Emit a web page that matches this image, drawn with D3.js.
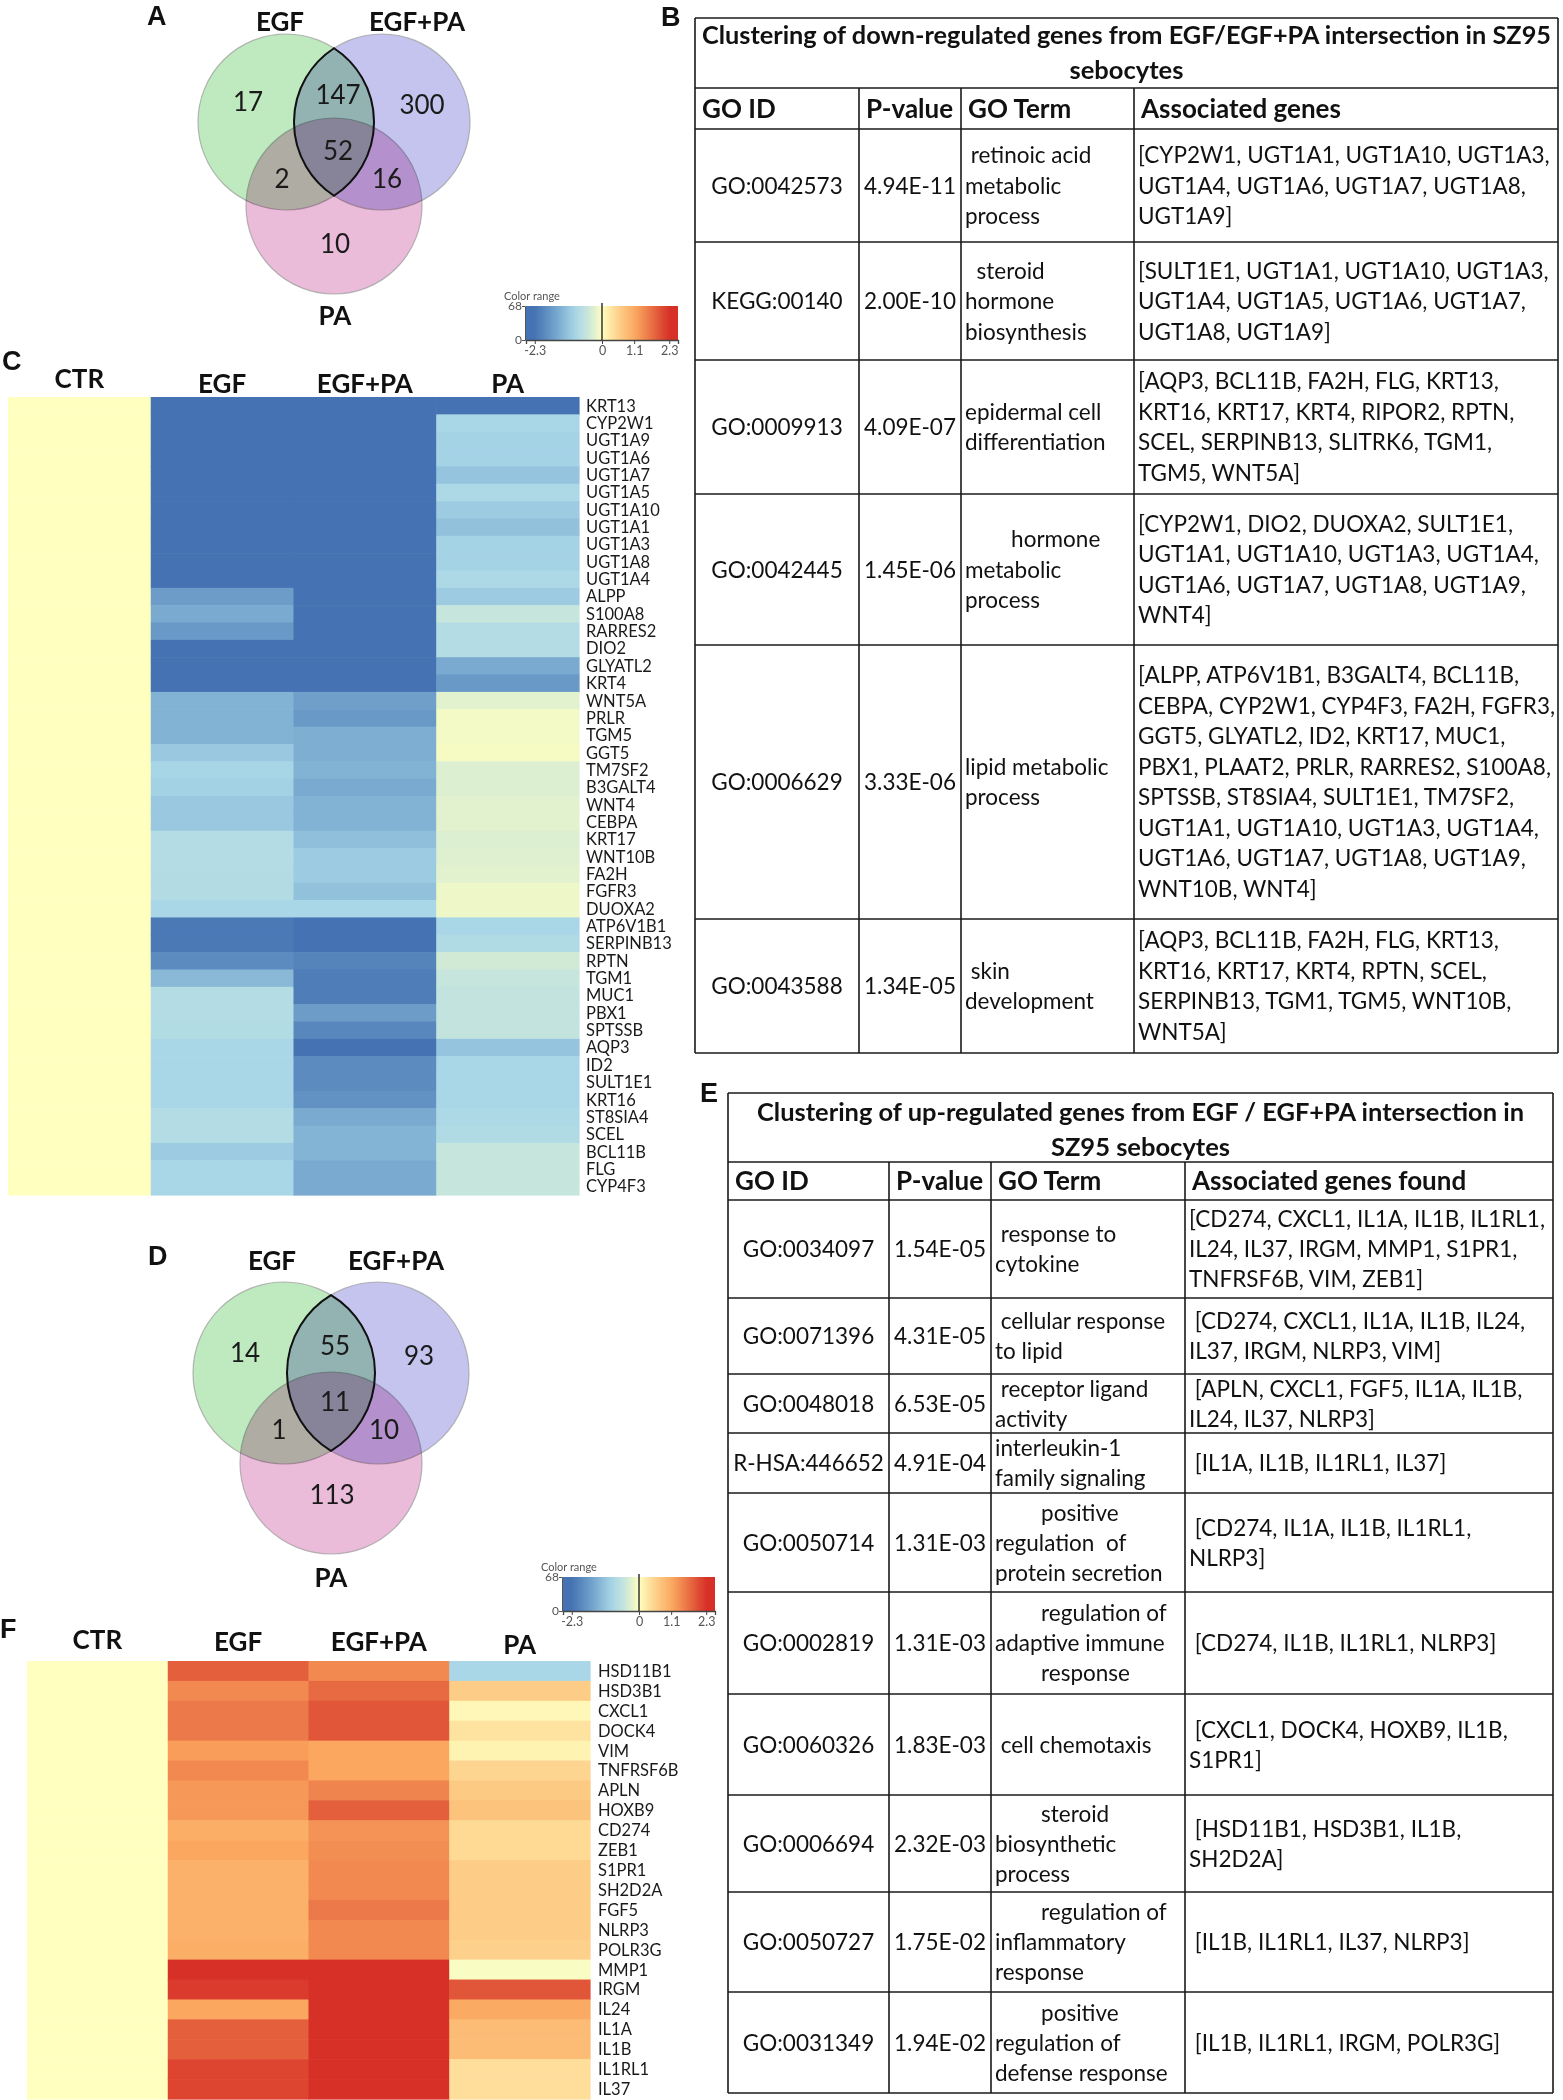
<!DOCTYPE html>
<html>
<head>
<meta charset="utf-8">
<script src="https://cdn.jsdelivr.net/npm/d3@7"></script>
<style>
  body { margin: 0; background: #fff; }
  svg text { font-family: Lato, "Open Sans", sans-serif; white-space: pre; fill: #111; }
</style>
</head>
<body>
<svg id="fig" width="1563" height="2100"></svg>
<script>
// ---------- data ----------
const conditions = ["CTR", "EGF", "EGF+PA", "PA"];

// Venn counts: only EGF, only EGF+PA, only PA, EGF&EGF+PA, EGF&PA, EGF+PA&PA, all three
const vennDownCounts = [17, 300, 10, 147, 2, 16, 52];
const vennUpCounts = [14, 93, 113, 55, 1, 10, 11];
const vennSetNames = ["EGF", "EGF+PA", "PA"];

// heatmap C (down-regulated), log fold change
const genesDown = ["KRT13","CYP2W1","UGT1A9","UGT1A6","UGT1A7","UGT1A5","UGT1A10","UGT1A1","UGT1A3","UGT1A8","UGT1A4","ALPP","S100A8","RARRES2","DIO2","GLYATL2","KRT4","WNT5A","PRLR","TGM5","GGT5","TM7SF2","B3GALT4","WNT4","CEBPA","KRT17","WNT10B","FA2H","FGFR3","DUOXA2","ATP6V1B1","SERPINB13","RPTN","TGM1","MUC1","PBX1","SPTSSB","AQP3","ID2","SULT1E1","KRT16","ST8SIA4","SCEL","BCL11B","FLG","CYP4F3"];
const downCTR = [0,0,0,0,0,0,0,0,0,0,0,0,0,0,0,0,0,0,0,0,0,0,0,0,0,0,0,0,0,0,0,0,0,0,0,0,0,0,0,0,0,0,0,0,0,0];
const downEGF = [-2.3,-2.3,-2.3,-2.3,-2.3,-2.3,-2.3,-2.3,-2.3,-2.3,-2.3,-1.7,-1.5,-1.75,-2.3,-2.3,-2.3,-1.4,-1.4,-1.4,-1.1,-0.92,-0.97,-1.1,-1.1,-0.75,-0.75,-0.78,-0.78,-0.9,-2.2,-2.2,-1.95,-1.3,-0.75,-0.75,-0.77,-0.9,-0.9,-0.9,-0.9,-0.75,-0.75,-1.05,-0.9,-0.9];
const downEGFPA = [-2.3,-2.3,-2.3,-2.3,-2.3,-2.3,-2.3,-2.3,-2.3,-2.3,-2.3,-2.3,-2.3,-2.3,-2.3,-2.3,-2.3,-1.65,-1.75,-1.45,-1.45,-1.4,-1.5,-1.4,-1.4,-1.22,-1.05,-1.05,-1.2,-0.9,-2.3,-2.3,-2.05,-2.15,-2.15,-1.7,-2.0,-2.3,-1.95,-1.95,-1.85,-1.5,-1.38,-1.38,-1.5,-1.5];
const downPA = [-2.3,-0.9,-0.95,-0.95,-1.15,-0.85,-1.05,-1.2,-0.95,-0.95,-0.85,-1.05,-0.5,-0.75,-0.75,-1.5,-1.75,-0.25,-0.1,-0.1,-0.08,-0.3,-0.3,-0.25,-0.25,-0.3,-0.28,-0.25,-0.15,-0.15,-0.9,-0.8,-0.4,-0.5,-0.55,-0.55,-0.55,-1.15,-0.9,-0.9,-0.9,-0.85,-0.8,-0.5,-0.5,-0.5];

// heatmap F (up-regulated)
const genesUp = ["HSD11B1","HSD3B1","CXCL1","DOCK4","VIM","TNFRSF6B","APLN","HOXB9","CD274","ZEB1","S1PR1","SH2D2A","FGF5","NLRP3","POLR3G","MMP1","IRGM","IL24","IL1A","IL1B","IL1RL1","IL37"];
const upCTR = [0,0,0,0,0,0,0,0,0,0,0,0,0,0,0,0,0,0,0,0,0,0];
const upEGF = [1.85,1.45,1.6,1.6,1.25,1.45,1.3,1.3,1.05,1.15,1.0,1.0,1.0,1.0,1.05,2.3,2.2,1.15,1.85,1.85,2.1,2.1];
const upEGFPA = [1.45,1.75,1.95,1.95,1.15,1.15,1.5,1.85,1.35,1.4,1.45,1.45,1.6,1.45,1.45,2.3,2.3,2.3,2.3,2.3,2.3,2.3];
const upPA = [-0.9,0.6,0.1,0.35,0.15,0.5,0.65,0.75,0.45,0.45,0.6,0.6,0.6,0.6,0.55,-0.05,1.95,1.1,0.85,0.85,0.4,0.4];

// colour legend
const legendDomain = [-2.6, 2.6];
const legendTicks = [-2.3, 0, 1.1, 2.3];
const legendCountMax = 68;

// table B
const downTitle = ["Clustering of down-regulated genes from EGF/EGF+PA intersection in SZ95", "sebocytes"];
const downHeaders = ["GO ID", "P-value", "GO Term", "Associated genes"];
const downIds = ["GO:0042573","KEGG:00140","GO:0009913","GO:0042445","GO:0006629","GO:0043588"];
const downPvals = ["4.94E-11","2.00E-10","4.09E-07","1.45E-06","3.33E-06","1.34E-05"];
const downTerms = [" retinoic acid\nmetabolic\nprocess", "  steroid\nhormone\nbiosynthesis", "epidermal cell\ndifferentiation", "        hormone\nmetabolic\nprocess", "lipid metabolic\nprocess", " skin\ndevelopment"];
const downGenes = [
  "[CYP2W1, UGT1A1, UGT1A10, UGT1A3,\nUGT1A4, UGT1A6, UGT1A7, UGT1A8,\nUGT1A9]",
  "[SULT1E1, UGT1A1, UGT1A10, UGT1A3,\nUGT1A4, UGT1A5, UGT1A6, UGT1A7,\nUGT1A8, UGT1A9]",
  "[AQP3, BCL11B, FA2H, FLG, KRT13,\nKRT16, KRT17, KRT4, RIPOR2, RPTN,\nSCEL, SERPINB13, SLITRK6, TGM1,\nTGM5, WNT5A]",
  "[CYP2W1, DIO2, DUOXA2, SULT1E1,\nUGT1A1, UGT1A10, UGT1A3, UGT1A4,\nUGT1A6, UGT1A7, UGT1A8, UGT1A9,\nWNT4]",
  "[ALPP, ATP6V1B1, B3GALT4, BCL11B,\nCEBPA, CYP2W1, CYP4F3, FA2H, FGFR3,\nGGT5, GLYATL2, ID2, KRT17, MUC1,\nPBX1, PLAAT2, PRLR, RARRES2, S100A8,\nSPTSSB, ST8SIA4, SULT1E1, TM7SF2,\nUGT1A1, UGT1A10, UGT1A3, UGT1A4,\nUGT1A6, UGT1A7, UGT1A8, UGT1A9,\nWNT10B, WNT4]",
  "[AQP3, BCL11B, FA2H, FLG, KRT13,\nKRT16, KRT17, KRT4, RPTN, SCEL,\nSERPINB13, TGM1, TGM5, WNT10B,\nWNT5A]"
];

// table E
const upTitle = ["Clustering of up-regulated genes from EGF / EGF+PA intersection in", "SZ95 sebocytes"];
const upHeaders = ["GO ID", "P-value", "GO Term", "Associated genes found"];
const upIds = ["GO:0034097","GO:0071396","GO:0048018","R-HSA:446652","GO:0050714","GO:0002819","GO:0060326","GO:0006694","GO:0050727","GO:0031349"];
const upPvals = ["1.54E-05","4.31E-05","6.53E-05","4.91E-04","1.31E-03","1.31E-03","1.83E-03","2.32E-03","1.75E-02","1.94E-02"];
const upTerms = [" response to\ncytokine", " cellular response\nto lipid", " receptor ligand\nactivity", "interleukin-1\nfamily signaling", "        positive\nregulation  of\nprotein secretion", "        regulation of\nadaptive immune\n        response", " cell chemotaxis", "        steroid\nbiosynthetic\nprocess", "        regulation of\ninflammatory\nresponse", "        positive\nregulation of\ndefense response"];
const upGenes = [
  "[CD274, CXCL1, IL1A, IL1B, IL1RL1,\nIL24, IL37, IRGM, MMP1, S1PR1,\nTNFRSF6B, VIM, ZEB1]",
  " [CD274, CXCL1, IL1A, IL1B, IL24,\nIL37, IRGM, NLRP3, VIM]",
  " [APLN, CXCL1, FGF5, IL1A, IL1B,\nIL24, IL37, NLRP3]",
  " [IL1A, IL1B, IL1RL1, IL37]",
  " [CD274, IL1A, IL1B, IL1RL1,\nNLRP3]",
  " [CD274, IL1B, IL1RL1, NLRP3]",
  " [CXCL1, DOCK4, HOXB9, IL1B,\nS1PR1]",
  " [HSD11B1, HSD3B1, IL1B,\nSH2D2A]",
  " [IL1B, IL1RL1, IL37, NLRP3]",
  " [IL1B, IL1RL1, IRGM, POLR3G]"
];

// ---------- setup ----------
const svg = d3.select("#fig");

// diverging palette like the original (blue - pale yellow - red)
const color = d3.scaleLinear()
  .domain([-2.3, -1.5, -0.9, -0.5, 0, 0.6, 1.15, 1.85, 2.3])
  .range(["#4472b2", "#7aaad0", "#a9d7e8", "#c6e5dc", "#ffffc0", "#fdcd87", "#fba75f", "#e4603d", "#d73027"])
  .clamp(true);

function panelLetter(t, x, y) {
  svg.append("text").attr("x", x).attr("y", y).text(t)
    .style("font-family", "'Liberation Sans', Arial, sans-serif")
    .style("font-weight", "bold").style("font-size", "27px");
}

function textBlock(g, str, x, cy, lh, opts) {
  const lines = str.split("\n");
  const y0 = cy - (lines.length - 1) * lh / 2;
  lines.forEach((t, i) => {
    g.append("text")
      .attr("x", x).attr("y", y0 + i * lh).attr("dy", "0.36em")
      .attr("text-anchor", opts.anchor || "start")
      .style("font-size", opts.size + "px")
      .style("font-weight", opts.weight || "normal")
      .text(t);
  });
}

// squeeze a text only if it is wider than the room it has
function fitWidth(sel, maxW) {
  sel.each(function() {
    const w = this.getComputedTextLength();
    if (w > maxW) d3.select(this).attr("textLength", maxW).attr("lengthAdjust", "spacingAndGlyphs");
  });
}

// ---------- Venn ----------
function drawVenn(cx, cy, r, dx, dyPink, counts, labelPos) {
  const g = svg.append("g").style("isolation", "isolate");
  const circles = [
    {x: cx - dx, y: cy, c: "#bfe9bf"},
    {x: cx + dx, y: cy, c: "#c4c4ef"},
    {x: cx, y: cy + dyPink, c: "#eabcda"}
  ];
  g.selectAll("circle").data(circles).join("circle")
    .attr("cx", d => d.x).attr("cy", d => d.y).attr("r", r)
    .attr("fill", d => d.c)
    .attr("stroke", "#9a9a9a").attr("stroke-opacity", 0.7).attr("stroke-width", 1.2)
    .style("mix-blend-mode", "multiply");

  // outlined lens EGF ∩ EGF+PA
  const h = Math.sqrt(r * r - dx * dx);
  g.append("path")
    .attr("d", `M${cx},${cy - h} A${r},${r} 0 0 1 ${cx},${cy + h} A${r},${r} 0 0 1 ${cx},${cy - h} Z`)
    .attr("fill", "none").attr("stroke", "#111").attr("stroke-width", 2);

  // region number offsets (relative to the top pair's midpoint)
  const off = [[-86, -20], [88, -17], [1, 122], [4, -27], [-52, 57], [53, 57], [4, 29]];
  g.selectAll("text.num").data(counts).join("text")
    .attr("class", "num")
    .attr("x", (d, i) => cx + off[i][0]).attr("y", (d, i) => cy + off[i][1])
    .attr("dy", "0.36em").attr("text-anchor", "middle")
    .style("font-size", "26px").style("fill", "#1a1a1a")
    .text(d => d);

  g.selectAll("text.set").data(vennSetNames).join("text")
    .attr("class", "set")
    .attr("x", (d, i) => labelPos[i][0]).attr("y", (d, i) => labelPos[i][1])
    .attr("text-anchor", "middle")
    .style("font-size", "26px").style("font-weight", "bold")
    .text(d => d);
}

// ---------- heatmap ----------
function drawHeatmap(genes, series, x0, x1, y0, y1, labelX, headerY) {
  const g = svg.append("g");
  const x = d3.scaleBand().domain(conditions).range([x0, x1]);
  const y = d3.scaleBand().domain(genes).range([y0, y1]);
  const cells = [];
  conditions.forEach((c, i) => genes.forEach((gn, j) => cells.push({c, gn, v: series[i][j]})));
  g.selectAll("rect").data(cells).join("rect")
    .attr("x", d => x(d.c)).attr("y", d => y(d.gn))
    .attr("width", x.bandwidth() + 0.6).attr("height", y.bandwidth() + 0.6)
    .attr("fill", d => color(d.v));
  g.selectAll("text.gene").data(genes).join("text")
    .attr("class", "gene")
    .attr("x", labelX).attr("y", d => y(d) + y.bandwidth() / 2).attr("dy", "0.36em")
    .style("font-size", "16.5px").style("fill", "#1a1a1a")
    .text(d => d);
  g.selectAll("text.head").data(conditions).join("text")
    .attr("class", "head")
    .attr("x", d => x(d) + x.bandwidth() / 2).attr("y", (d, i) => headerY[i])
    .attr("text-anchor", "middle")
    .style("font-size", "26px").style("font-weight", "bold")
    .text(d => d);
}

// ---------- colour legend ----------
let gradId = 0;
function drawLegend(lx, ly) {
  const w = 152, h = 34;
  const g = svg.append("g");
  const xs = d3.scaleLinear().domain(legendDomain).range([lx, lx + w]);
  const id = "grad" + (gradId++);
  const grad = svg.append("defs").append("linearGradient").attr("id", id);
  d3.range(0, 1.0001, 0.05).forEach(t => {
    grad.append("stop").attr("offset", t)
      .attr("stop-color", color(legendDomain[0] + t * (legendDomain[1] - legendDomain[0])));
  });
  g.append("rect").attr("x", lx).attr("y", ly).attr("width", w).attr("height", h).attr("fill", `url(#${id})`);
  g.append("text").attr("x", lx - 22).attr("y", ly - 6).text("Color range")
    .style("font-size", "11px").style("fill", "#555");
  const ys = d3.scaleLinear().domain([0, legendCountMax]).range([ly + h, ly]);
  g.append("g").attr("transform", `translate(${lx - 1},0)`)
    .call(d3.axisLeft(ys).tickValues([0, legendCountMax]).tickSize(3))
    .call(a => a.selectAll("text").style("font-size", "12px").style("fill", "#555").attr("x", -3))
    .call(a => a.select(".domain").attr("stroke", "#555"))
    .call(a => a.selectAll("line").attr("stroke", "#555"));
  g.append("g").attr("transform", `translate(0,${ly + h})`)
    .call(d3.axisBottom(xs).tickValues(legendTicks).tickSize(4).tickFormat(d => d))
    .call(a => a.selectAll("text").style("font-size", "12.5px").style("fill", "#555").attr("y", 6))
    .call(a => a.select(".domain").attr("stroke", "#444").attr("stroke-width", 1.3))
    .call(a => a.selectAll("line").attr("stroke", "#444"));
  g.append("line").attr("x1", xs(0)).attr("x2", xs(0)).attr("y1", ly - 3).attr("y2", ly + h)
    .attr("stroke", "#333").attr("stroke-width", 1.5);
}

// ---------- tables ----------
function drawTable(cfg) {
  const g = svg.append("g");
  const L = cfg.cols[0], R = cfg.cols[4];
  const lineCol = "#1a1a1a";
  const ln = (x1, y1, x2, y2) => g.append("line").attr("x1", x1).attr("y1", y1).attr("x2", x2).attr("y2", y2)
    .attr("stroke", lineCol).attr("stroke-width", 1.6);
  const bottoms = cfg.rowBottoms;
  const yEnd = bottoms[bottoms.length - 1];
  // outer box + horizontal rules
  ln(L, cfg.top, R, cfg.top);
  ln(L, cfg.titleBottom, R, cfg.titleBottom);
  ln(L, cfg.headerBottom, R, cfg.headerBottom);
  bottoms.forEach(b => ln(L, b, R, b));
  ln(L, cfg.top, L, yEnd);
  ln(R, cfg.top, R, yEnd);
  [1, 2, 3].forEach(i => ln(cfg.cols[i], cfg.titleBottom, cfg.cols[i], yEnd));

  // title
  cfg.title.forEach((t, i) => {
    const tt = g.append("text").attr("x", (L + R) / 2).attr("y", cfg.titleY[i]).attr("dy", "0.36em")
      .attr("text-anchor", "middle").style("font-size", "25.5px").style("font-weight", "bold").text(t);
    if (i === 0) fitWidth(tt, cfg.titleW);
  });
  // header
  const hy = (cfg.titleBottom + cfg.headerBottom) / 2;
  const heads = g.append("g");
  cfg.headers.forEach((t, i) => {
    const ht = heads.append("text").attr("x", cfg.cols[i] + 7).attr("y", hy).attr("dy", "0.36em")
      .style("font-size", "26px").style("font-weight", "bold").text(t);
    fitWidth(ht, cfg.cols[i + 1] - cfg.cols[i] - 10);
  });
  // body
  const body = g.append("g");
  const lh = cfg.lineH;
  cfg.ids.forEach((id, r) => {
    const top = r === 0 ? cfg.headerBottom : bottoms[r - 1];
    const cy = (top + bottoms[r]) / 2;
    textBlock(body, id, (cfg.cols[0] + cfg.cols[1]) / 2, cy, lh, {anchor: "middle", size: 22.5});
    textBlock(body, cfg.pvals[r], (cfg.cols[1] + cfg.cols[2]) / 2, cy, lh, {anchor: "middle", size: 22.5});
    textBlock(body, cfg.terms[r], cfg.cols[2] + 4, cy, lh, {size: 22.5});
    textBlock(body, cfg.genes[r], cfg.cols[3] + 4, cy, lh, {size: 22.5});
  });
  body.selectAll("text").each(function() {
    // keep every left-aligned cell text inside its column
    const x = +this.getAttribute("x");
    if (this.getAttribute("text-anchor") === "middle") return;
    let right = R - 3;
    for (let i = 1; i < 5; i++) if (cfg.cols[i] > x + 2) { right = cfg.cols[i] - 3; break; }
    fitWidth(d3.select(this), right - x);
  });
}

// ---------- draw ----------
panelLetter("A", 147, 25);
panelLetter("B", 661, 26);
panelLetter("C", 2, 370);
panelLetter("D", 148, 1265);
panelLetter("E", 700, 1102);
panelLetter("F", 0, 1638);

drawVenn(334, 122, 88, 48, 84, vennDownCounts, [[280, 31], [417, 31], [335, 325]]);
drawVenn(331, 1373, 91, 47, 90, vennUpCounts, [[272, 1270], [396, 1270], [331, 1587]]);

drawHeatmap(genesDown, [downCTR, downEGF, downEGFPA, downPA], 8, 579, 397, 1195, 586, [388, 393, 393, 393]);
drawHeatmap(genesUp, [upCTR, upEGF, upEGFPA, upPA], 27, 590, 1661, 2099, 598, [1649, 1651, 1651, 1654]);

drawLegend(526, 306);
drawLegend(563, 1577);

drawTable({
  cols: [695, 859, 961, 1134, 1558],
  top: 18, titleBottom: 88, headerBottom: 129,
  titleY: [35, 70], titleW: 849,
  rowBottoms: [242, 360, 494, 645, 919, 1053],
  lineH: 30.5,
  title: downTitle, headers: downHeaders,
  ids: downIds, pvals: downPvals, terms: downTerms, genes: downGenes
});

drawTable({
  cols: [728, 889, 991, 1185, 1553],
  top: 1093, titleBottom: 1162, headerBottom: 1200,
  titleY: [1112, 1147], titleW: 767,
  rowBottoms: [1298, 1374, 1433, 1493, 1592, 1694, 1795, 1892, 1992, 2093],
  lineH: 30,
  title: upTitle, headers: upHeaders,
  ids: upIds, pvals: upPvals, terms: upTerms, genes: upGenes
});
</script>
</body>
</html>
